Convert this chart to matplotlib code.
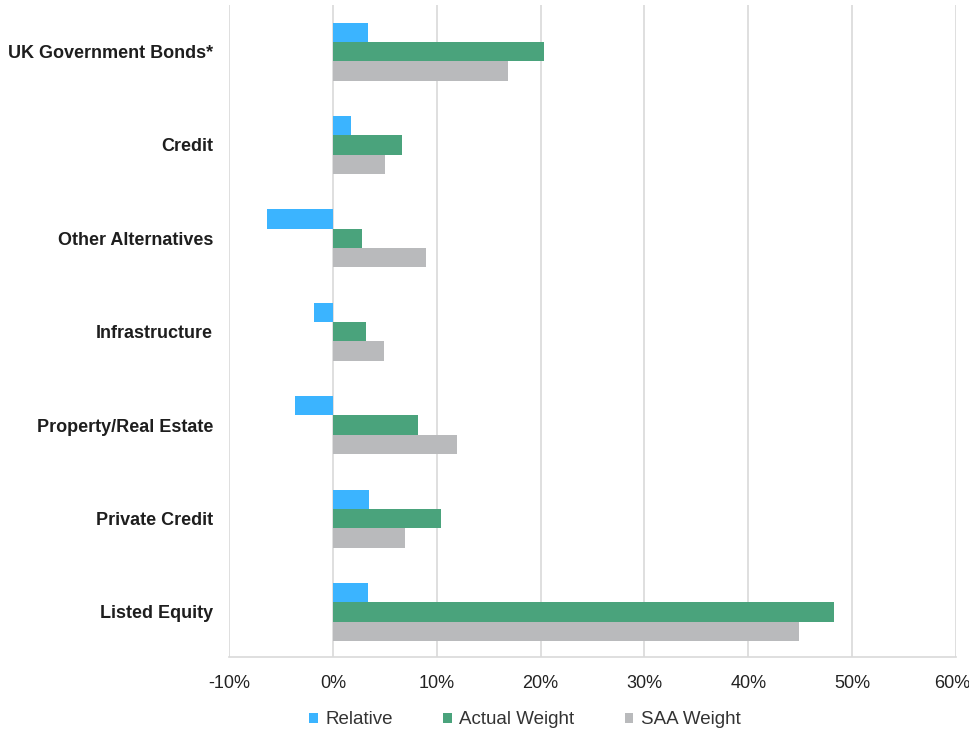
import matplotlib
matplotlib.use("Agg")
import matplotlib.pyplot as plt
import numpy as np
from matplotlib.ticker import FuncFormatter
import matplotlib.transforms as mtransforms

categories = ["UK Government Bonds*", "Credit", "Other Alternatives", "Infrastructure",
              "Property/Real Estate", "Private Credit", "Listed Equity"]
relative = [3.4, 1.7, -6.3, -1.8, -3.6, 3.5, 3.4]
actual = [20.3, 6.7, 2.8, 3.2, 8.2, 10.4, 48.3]
saa = [16.9, 5.0, 9.0, 4.9, 12.0, 6.9, 44.9]
xticks = [-10, 0, 10, 20, 30, 40, 50, 60]

plt.rcParams['font.family'] = ['Liberation Sans', 'DejaVu Sans']

fig = plt.figure(figsize=(9.69, 7.33), dpi=100)
ax = fig.add_axes([229/969, 1-657/733, (956-229)/969, (657-5)/733])

n = len(categories)
ypos = np.arange(n)[::-1]
h = 0.207
c_rel, c_act, c_saa = "#3BB4FF", "#4AA37C", "#B9BABC"
ax.barh(ypos + h, relative, height=h, color=c_rel, label="Relative", zorder=3)
ax.barh(ypos, actual, height=h, color=c_act, label="Actual Weight", zorder=3)
ax.barh(ypos - h, saa, height=h, color=c_saa, label="SAA Weight", zorder=3)

ax.set_xlim(-10, 60)
ax.set_ylim(-0.482, n - 1 + 0.498)
ax.set_xticks(xticks)
ax.xaxis.set_major_formatter(FuncFormatter(lambda v, p: f"{v:.0f}%"))
ax.set_yticks(ypos)
ax.set_yticklabels(categories, fontweight="bold", fontsize=13, color="#1E1E1E")
ax.tick_params(axis="y", length=0, pad=11.5)
ax.tick_params(axis="x", length=0, pad=13, labelsize=13, labelcolor="#222222")
ax.grid(axis="x", color="#D9D9D9", linewidth=1.2, zorder=0)
for s in ["top", "right", "left"]:
    ax.spines[s].set_visible(False)
ax.spines["bottom"].set_color("#D9D9D9")
ax.spines["bottom"].set_linewidth(1.2)

# nudge last tick label inward so it stays inside the figure
last = ax.get_xticklabels()[-1]
last.set_transform(last.get_transform() + mtransforms.ScaledTranslation(-4/100, 0, fig.dpi_scale_trans))

leg = fig.legend(loc="center", bbox_to_anchor=(525/969, 1-720/733), ncol=3, frameon=False,
                 fontsize=13.5, handlelength=0.45, handleheight=0.45, handletextpad=0.4,
                 columnspacing=2.7)
for t in leg.get_texts():
    t.set_color("#333333")

fig.savefig("out.png", dpi=100)
